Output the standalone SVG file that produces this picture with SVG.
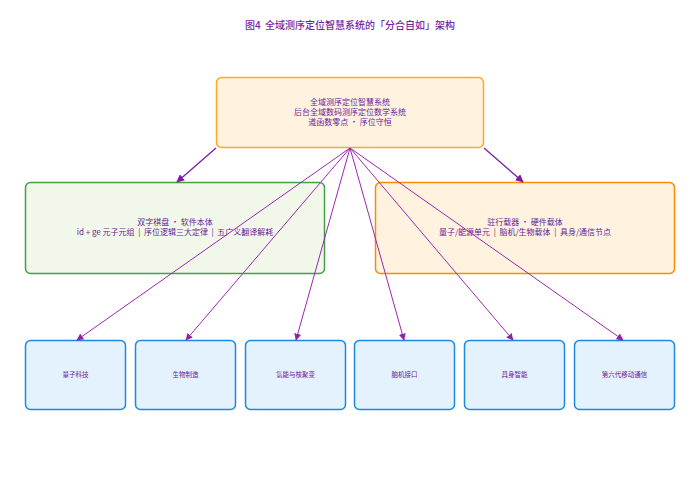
<svg xmlns="http://www.w3.org/2000/svg" width="700" height="483" viewBox="0 0 700 483">
<defs>
<marker id="ah" viewBox="0 0 10 10" refX="9" refY="5" markerWidth="7" markerHeight="7" orient="auto" markerUnits="userSpaceOnUse">
<path d="M0,0 L10,5 L0,10 z" fill="#8e24aa"/>
</marker>
<marker id="ah2" viewBox="0 0 10 10" refX="9" refY="5" markerWidth="8" markerHeight="8" orient="auto" markerUnits="userSpaceOnUse">
<path d="M0,0 L10,5 L0,10 z" fill="#7b1fa2"/>
</marker>
</defs>
<style>
text{font-family:"Noto Sans CJK SC","Noto Sans",sans-serif;fill:#6a1b9a;text-anchor:middle;white-space:pre}
.t{font-size:10px;font-weight:500;fill:#7b1fa2}
.m{font-size:8px}
.s{font-size:6.5px}
.top rect{fill:#fff3e0;stroke:#ffa726;stroke-width:1.5}
.sw rect{fill:#f1f8e9;stroke:#43a047;stroke-width:1.5}
.hw rect{fill:#fff3e0;stroke:#fb8c00;stroke-width:1.5}
.leaf rect{fill:#e3f2fd;stroke:#1e88e5;stroke-width:1.5}
.c line{stroke:#9c27b0;stroke-width:1;marker-end:url(#ah)}
.c line.main{stroke:#7b1fa2;stroke-width:1.3;marker-end:url(#ah2)}
</style>
<rect width="700" height="483" fill="#ffffff"/>
<text class="t" x="350" y="29" xml:space="preserve">图4  全域测序定位智慧系统的「分合自如」架构</text>
<g id="top" class="top">
<rect x="216.5" y="77.5" width="267" height="70" rx="5"/>
<text class="m" x="350" y="105">全域测序定位智慧系统</text>
<text class="m" x="350" y="115">后台全域数码测序定位数学系统</text>
<text class="m" x="350" y="125">道函数零点 · 序位守恒</text>
</g>
<g id="software" class="sw">
<rect x="25.5" y="182.5" width="299" height="91" rx="5"/>
<text class="m" x="175" y="225">双字棋盘 · 软件本体</text>
<text class="m" x="175" y="235" xml:space="preserve">id + ge 元子元组  |  序位逻辑三大定律  |  五广义翻译解耗</text>
</g>
<g id="hardware" class="hw">
<rect x="375.5" y="182.5" width="299" height="91" rx="5"/>
<text class="m" x="525" y="225">驻行载器 · 硬件载体</text>
<text class="m" x="525" y="235" xml:space="preserve">量子/能源单元  |  脑机/生物载体  |  具身/通信节点</text>
</g>
<g id="quantum" class="leaf">
<rect x="25.5" y="340.5" width="100" height="69" rx="5"/>
<text class="s" x="75.5" y="377">量子科技</text>
</g>
<g id="bio" class="leaf">
<rect x="135.5" y="340.5" width="100" height="69" rx="5"/>
<text class="s" x="185.5" y="377">生物制造</text>
</g>
<g id="energy" class="leaf">
<rect x="245.5" y="340.5" width="100" height="69" rx="5"/>
<text class="s" x="295.5" y="377">氢能与核聚变</text>
</g>
<g id="bci" class="leaf">
<rect x="354.5" y="340.5" width="100" height="69" rx="5"/>
<text class="s" x="404.5" y="377">脑机接口</text>
</g>
<g id="embodied" class="leaf">
<rect x="464.5" y="340.5" width="100" height="69" rx="5"/>
<text class="s" x="514.5" y="377">具身智能</text>
</g>
<g id="sixg" class="leaf">
<rect x="574.5" y="340.5" width="100" height="69" rx="5"/>
<text class="s" x="624.5" y="377">第六代移动通信</text>
</g>
<g id="connectors" class="c">
<line class="main" x1="216" y1="148" x2="177" y2="182"/>
<line class="main" x1="484" y1="148" x2="523" y2="182"/>
<line x1="350" y1="148" x2="77" y2="340"/>
<line x1="350" y1="148" x2="186" y2="340"/>
<line x1="350" y1="148" x2="296" y2="340"/>
<line x1="350" y1="148" x2="404" y2="340"/>
<line x1="350" y1="148" x2="513" y2="340"/>
<line x1="350" y1="148" x2="623" y2="340"/>
</g>
</svg>
